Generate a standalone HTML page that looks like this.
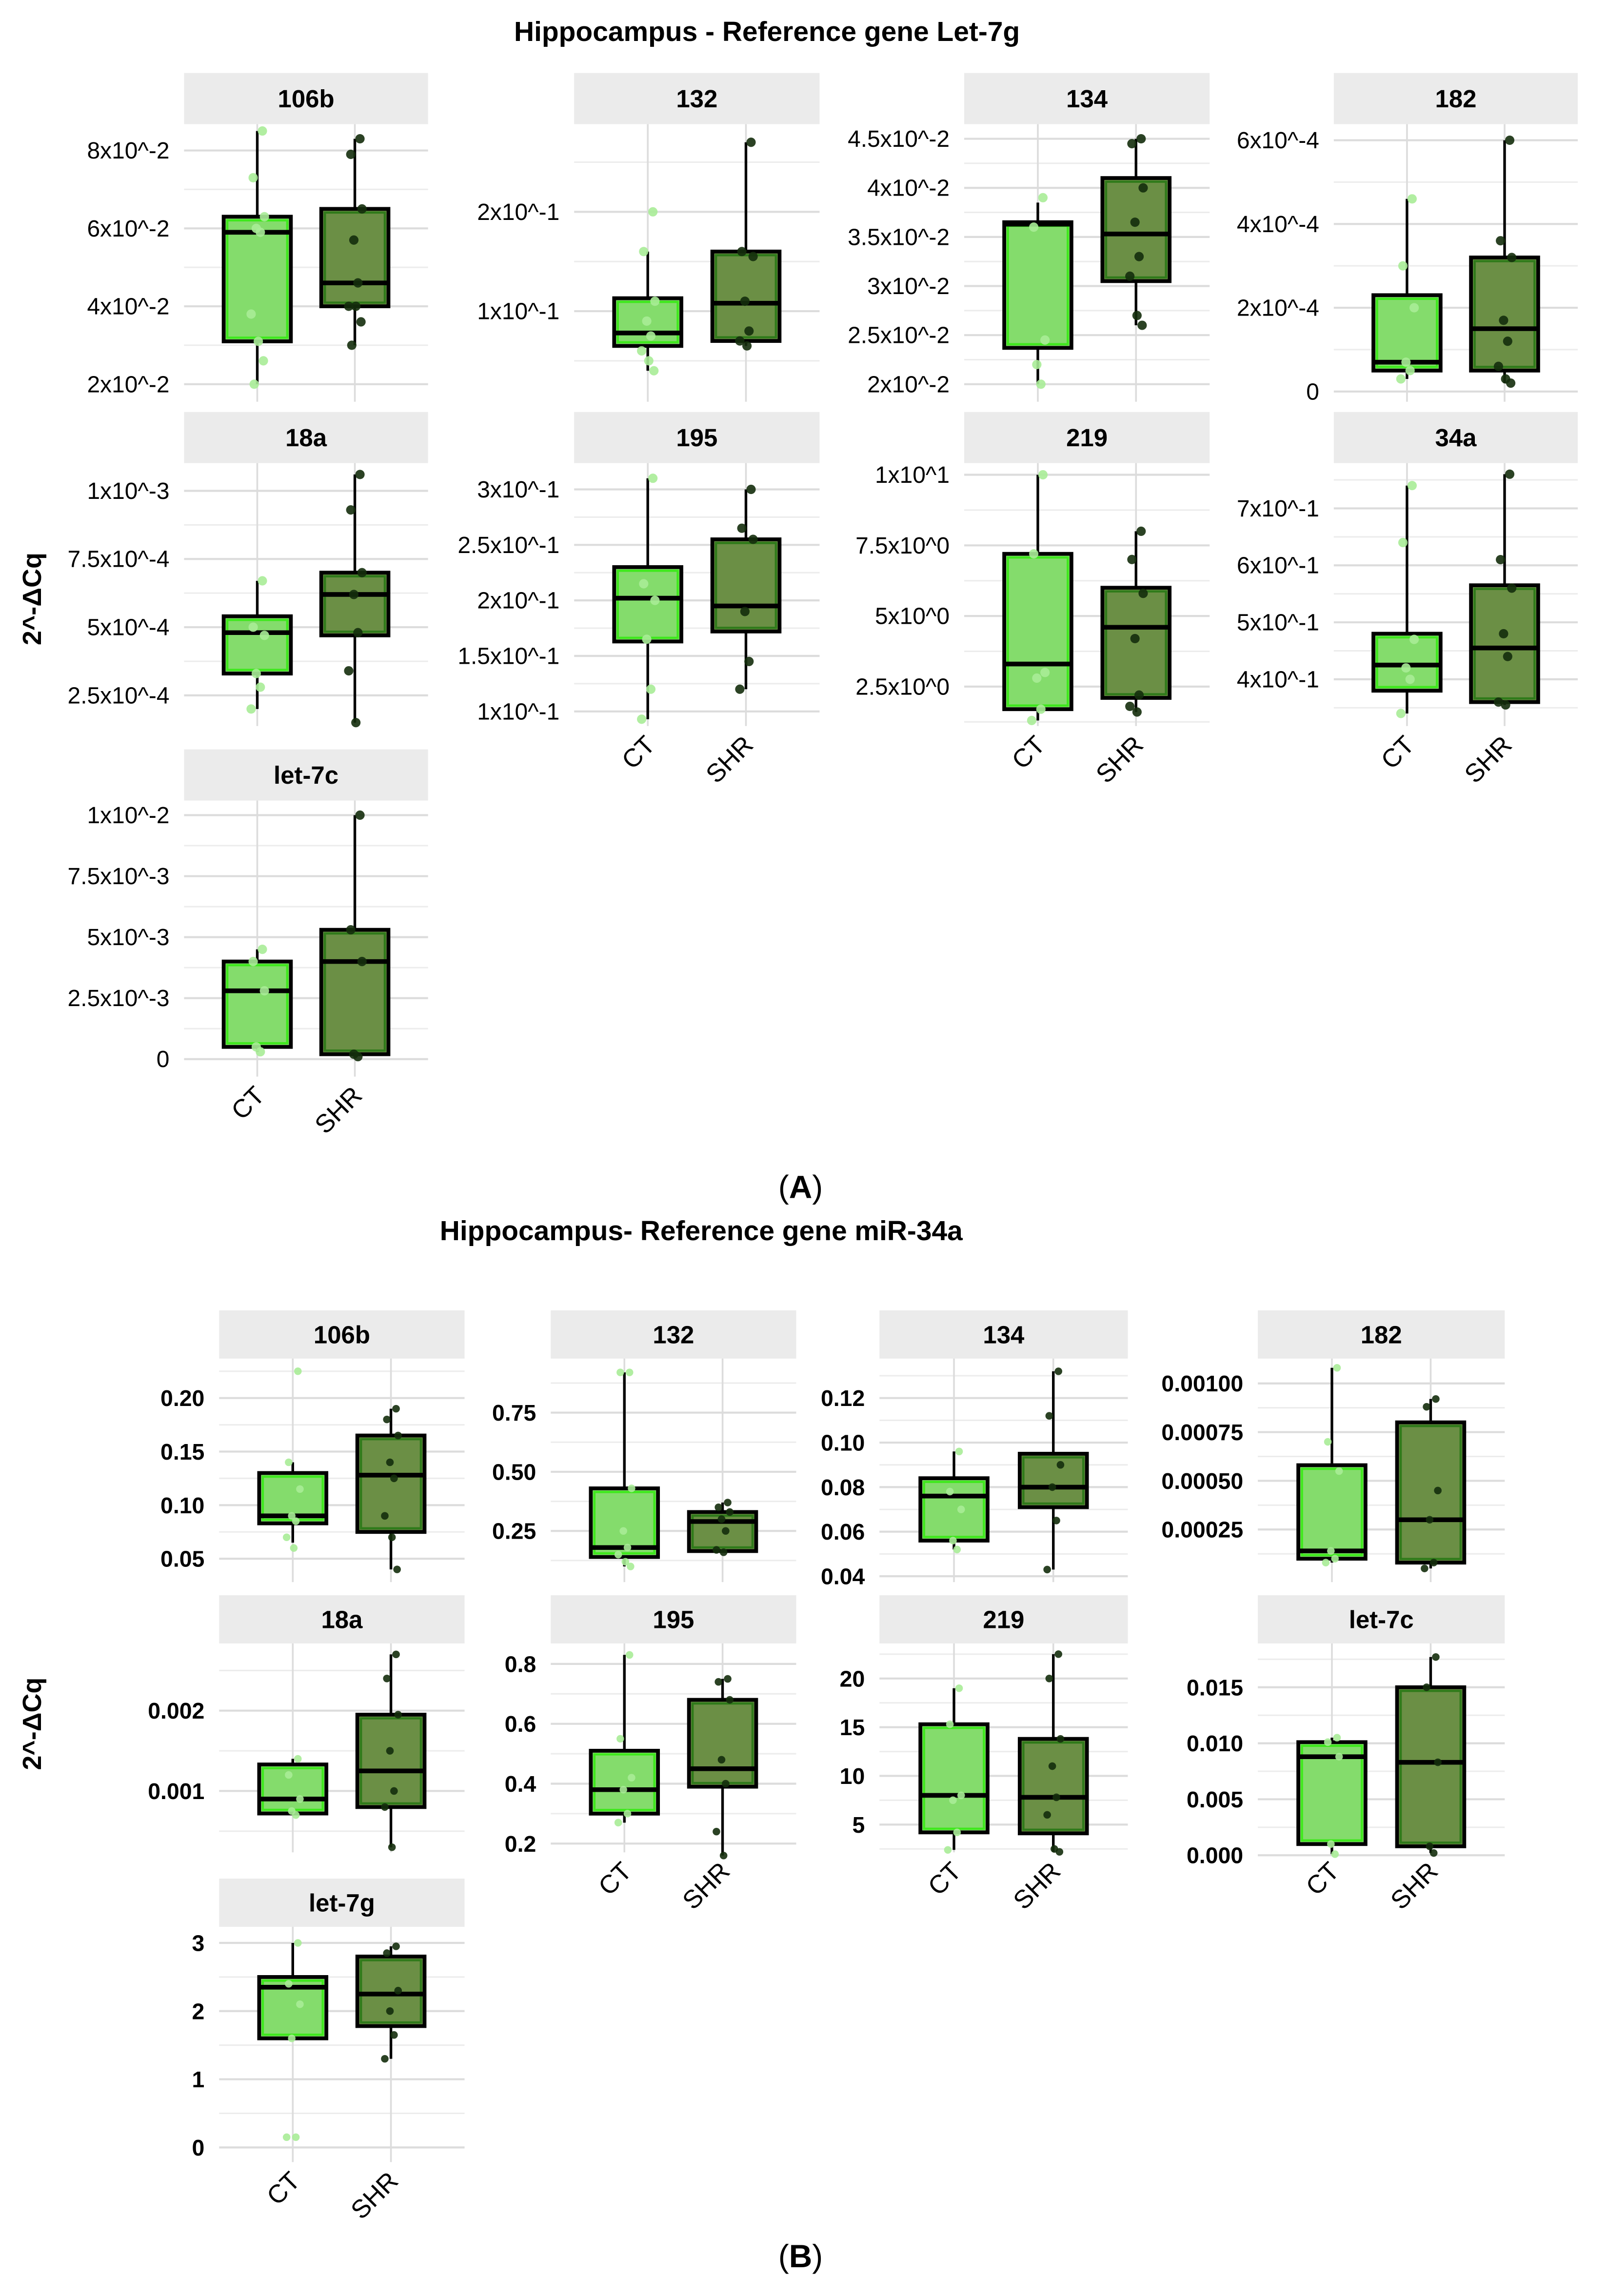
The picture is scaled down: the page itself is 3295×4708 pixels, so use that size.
<!DOCTYPE html>
<html><head><meta charset="utf-8"><style>
html,body{margin:0;padding:0;background:#fff;}
svg{display:block;}
text{font-family:"Liberation Sans",sans-serif;}
</style></head><body>
<svg id="chart" xmlns="http://www.w3.org/2000/svg" width="3295" height="4708" viewBox="0 0 1100 1571.7" preserveAspectRatio="none">
<rect x="0" y="0" width="1100" height="1572" fill="#fff"/>
<text x="525" y="28" text-anchor="middle" font-size="19" font-weight="bold">Hippocampus - Reference gene Let-7g</text>
<text x="480" y="849" text-anchor="middle" font-size="19" font-weight="bold">Hippocampus- Reference gene miR-34a</text>
<text x="548" y="820" text-anchor="middle" font-size="22" font-family="Liberation Serif">(<tspan font-weight="bold">A</tspan>)</text>
<text x="548" y="1552" text-anchor="middle" font-size="22" font-family="Liberation Serif">(<tspan font-weight="bold">B</tspan>)</text>
<text transform="translate(28,410) rotate(-90)" text-anchor="middle" font-size="18" font-weight="bold">2^-ΔCq</text>
<text transform="translate(28,1180) rotate(-90)" text-anchor="middle" font-size="18" font-weight="bold">2^-ΔCq</text>
<g id="panels"></g>
</svg>
<script>
// ---- data: box stats [lower whisker, q1, median, q3, upper whisker] ----
const groups = ["CT", "SHR"];
// Panel A
const a106b_ct = [0.020, 0.031, 0.059, 0.063, 0.085];
const a106b_shr = [0.030, 0.040, 0.046, 0.065, 0.083];
const a106b_ctPts = [0.085, 0.073, 0.063, 0.060, 0.059, 0.038, 0.031, 0.026, 0.020];
const a106b_shrPts = [0.083, 0.079, 0.065, 0.057, 0.046, 0.040, 0.040, 0.036, 0.030];
const a106b_ticks = [0.02, 0.04, 0.06, 0.08];
const a106b_labels = ["2x10^-2", "4x10^-2", "6x10^-2", "8x10^-2"];

const a132_ct = [0.04, 0.065, 0.078, 0.113, 0.16];
const a132_shr = [0.065, 0.07, 0.108, 0.16, 0.27];
const a132_ctPts = [0.2, 0.16, 0.11, 0.09, 0.075, 0.06, 0.05, 0.04];
const a132_shrPts = [0.27, 0.16, 0.155, 0.11, 0.08, 0.07, 0.065];
const a132_ticks = [0.1, 0.2];
const a132_labels = ["1x10^-1", "2x10^-1"];

const a134_ct = [0.020, 0.0237, 0.0363, 0.0365, 0.0385];
const a134_shr = [0.026, 0.0305, 0.0353, 0.041, 0.045];
const a134_ctPts = [0.039, 0.036, 0.0245, 0.022, 0.020];
const a134_shrPts = [0.045, 0.0445, 0.040, 0.0365, 0.033, 0.031, 0.027, 0.026];
const a134_ticks = [0.02, 0.025, 0.03, 0.035, 0.04, 0.045];
const a134_labels = ["2x10^-2", "2.5x10^-2", "3x10^-2", "3.5x10^-2", "4x10^-2", "4.5x10^-2"];

const a182_ct = [0.00003, 0.00005, 0.00007, 0.00023, 0.00046];
const a182_shr = [0.00002, 0.00005, 0.00015, 0.00032, 0.0006];
const a182_ctPts = [0.00046, 0.0003, 0.0002, 0.00007, 0.00005, 0.00003];
const a182_shrPts = [0.0006, 0.00036, 0.00032, 0.00017, 0.00012, 0.00006, 0.00003, 0.00002];
const a182_ticks = [0, 0.0002, 0.0004, 0.0006];
const a182_labels = ["0", "2x10^-4", "4x10^-4", "6x10^-4"];

const a18a_ct = [0.0002, 0.00033, 0.00048, 0.00054, 0.00067];
const a18a_shr = [0.00015, 0.00047, 0.00062, 0.0007, 0.00106];
const a18a_ctPts = [0.00067, 0.0005, 0.00047, 0.00033, 0.00028, 0.0002];
const a18a_shrPts = [0.00106, 0.00093, 0.0007, 0.00062, 0.00048, 0.00034, 0.00015];
const a18a_ticks = [0.00025, 0.0005, 0.00075, 0.001];
const a18a_labels = ["2.5x10^-4", "5x10^-4", "7.5x10^-4", "1x10^-3"];

const a195_ct = [0.093, 0.163, 0.202, 0.23, 0.31];
const a195_shr = [0.12, 0.172, 0.195, 0.255, 0.30];
const a195_ctPts = [0.31, 0.215, 0.2, 0.165, 0.12, 0.093];
const a195_shrPts = [0.30, 0.265, 0.255, 0.19, 0.145, 0.12];
const a195_ticks = [0.1, 0.15, 0.2, 0.25, 0.3];
const a195_labels = ["1x10^-1", "1.5x10^-1", "2x10^-1", "2.5x10^-1", "3x10^-1"];

const a219_ct = [1.3, 1.7, 3.3, 7.2, 10];
const a219_shr = [1.6, 2.1, 4.6, 6.0, 8.0];
const a219_ctPts = [10, 7.2, 3.0, 2.8, 1.7, 1.3];
const a219_shrPts = [8.0, 7.0, 5.8, 4.2, 2.2, 1.8, 1.6];
const a219_ticks = [2.5, 5, 7.5, 10];
const a219_labels = ["2.5x10^0", "5x10^0", "7.5x10^0", "1x10^1"];

const a34a_ct = [0.34, 0.38, 0.425, 0.48, 0.74];
const a34a_shr = [0.355, 0.36, 0.455, 0.565, 0.76];
const a34a_ctPts = [0.74, 0.64, 0.47, 0.42, 0.40, 0.34];
const a34a_shrPts = [0.76, 0.61, 0.56, 0.48, 0.44, 0.36, 0.355];
const a34a_ticks = [0.4, 0.5, 0.6, 0.7];
const a34a_labels = ["4x10^-1", "5x10^-1", "6x10^-1", "7x10^-1"];

const a7c_ct = [0.0003, 0.0005, 0.0028, 0.004, 0.0045];
const a7c_shr = [0.0001, 0.0002, 0.004, 0.0053, 0.010];
const a7c_ctPts = [0.0045, 0.004, 0.0028, 0.0005, 0.0003];
const a7c_shrPts = [0.010, 0.0053, 0.004, 0.0002, 0.0001];
const a7c_ticks = [0, 0.0025, 0.005, 0.0075, 0.01];
const a7c_labels = ["0", "2.5x10^-3", "5x10^-3", "7.5x10^-3", "1x10^-2"];

// Panel B
const b106b_ct = [0.065, 0.083, 0.09, 0.13, 0.14];
const b106b_shr = [0.04, 0.075, 0.128, 0.165, 0.19];
const b106b_ctPts = [0.225, 0.14, 0.115, 0.09, 0.085, 0.07, 0.06];
const b106b_shrPts = [0.19, 0.18, 0.165, 0.14, 0.125, 0.09, 0.07, 0.04];
const b106b_ticks = [0.05, 0.10, 0.15, 0.20];
const b106b_labels = ["0.05", "0.10", "0.15", "0.20"];

const b132_ct = [0.10, 0.14, 0.18, 0.43, 0.92];
const b132_shr = [0.16, 0.165, 0.29, 0.33, 0.37];
const b132_ctPts = [0.92, 0.92, 0.43, 0.25, 0.18, 0.15, 0.12, 0.10];
const b132_shrPts = [0.37, 0.35, 0.33, 0.3, 0.25, 0.17, 0.16];
const b132_ticks = [0.25, 0.50, 0.75];
const b132_labels = ["0.25", "0.50", "0.75"];

const b134_ct = [0.052, 0.056, 0.076, 0.084, 0.096];
const b134_shr = [0.043, 0.071, 0.08, 0.095, 0.132];
const b134_ctPts = [0.096, 0.078, 0.07, 0.056, 0.052];
const b134_shrPts = [0.132, 0.112, 0.09, 0.08, 0.065, 0.043];
const b134_ticks = [0.04, 0.06, 0.08, 0.10, 0.12];
const b134_labels = ["0.04", "0.06", "0.08", "0.10", "0.12"];

const b182_ct = [0.00008, 0.0001, 0.00014, 0.00058, 0.00108];
const b182_shr = [0.00005, 0.00008, 0.0003, 0.0008, 0.00092];
const b182_ctPts = [0.00108, 0.0007, 0.00055, 0.00014, 0.0001, 0.00008];
const b182_shrPts = [0.00092, 0.00088, 0.00045, 0.0003, 0.00008, 0.00005];
const b182_ticks = [0.00025, 0.0005, 0.00075, 0.001];
const b182_labels = ["0.00025", "0.00050", "0.00075", "0.00100"];

const b18a_ct = [0.0007, 0.00072, 0.0009, 0.00133, 0.0014];
const b18a_shr = [0.0003, 0.0008, 0.00125, 0.00195, 0.0027];
const b18a_ctPts = [0.0014, 0.0012, 0.0009, 0.00075, 0.0007];
const b18a_shrPts = [0.0027, 0.0024, 0.00195, 0.0015, 0.001, 0.0008, 0.0003];
const b18a_ticks = [0.001, 0.002];
const b18a_labels = ["0.001", "0.002"];

const b195_ct = [0.27, 0.3, 0.38, 0.51, 0.83];
const b195_shr = [0.16, 0.39, 0.45, 0.68, 0.75];
const b195_ctPts = [0.83, 0.55, 0.42, 0.38, 0.3, 0.27];
const b195_shrPts = [0.75, 0.74, 0.68, 0.48, 0.4, 0.24, 0.16];
const b195_ticks = [0.2, 0.4, 0.6, 0.8];
const b195_labels = ["0.2", "0.4", "0.6", "0.8"];

const b219_ct = [2.4, 4.2, 8, 15.3, 19];
const b219_shr = [2.2, 4.1, 7.8, 13.8, 22.5];
const b219_ctPts = [19, 15.3, 8, 7.5, 4.2, 2.4];
const b219_shrPts = [22.5, 20, 13.8, 11, 7.8, 6, 2.5, 2.2];
const b219_ticks = [5, 10, 15, 20];
const b219_labels = ["5", "10", "15", "20"];

const b7c_ct = [0.0001, 0.001, 0.0088, 0.0101, 0.0105];
const b7c_shr = [0.0002, 0.0008, 0.0083, 0.015, 0.0177];
const b7c_ctPts = [0.0105, 0.0101, 0.0088, 0.001, 0.0001];
const b7c_shrPts = [0.0177, 0.015, 0.0083, 0.0008, 0.0002];
const b7c_ticks = [0, 0.005, 0.010, 0.015];
const b7c_labels = ["0.000", "0.005", "0.010", "0.015"];

const b7g_ct = [1.6, 1.6, 2.35, 2.5, 3.0];
const b7g_shr = [1.3, 1.78, 2.25, 2.8, 2.95];
const b7g_ctPts = [3.0, 2.4, 2.1, 1.6, 0.15, 0.15];
const b7g_shrPts = [2.95, 2.85, 2.3, 2.0, 1.65, 1.3];
const b7g_ticks = [0, 1, 2, 3];
const b7g_labels = ["0", "1", "2", "3"];

// ---- layout (positions only) ----
const layout = [
 {id:"a-106b",t:"106b",d:[a106b_ct,a106b_shr,a106b_ctPts,a106b_shrPts,a106b_ticks,a106b_labels],s:[126,293,50,85],pb:275,cal:[0.02,263,0.08,103],xl:false,fs:16,B:false},
 {id:"a-132",t:"132",d:[a132_ct,a132_shr,a132_ctPts,a132_shrPts,a132_ticks,a132_labels],s:[393,561,50,85],pb:275,cal:[0.1,213,0.2,145],xl:false,fs:16,B:false},
 {id:"a-134",t:"134",d:[a134_ct,a134_shr,a134_ctPts,a134_shrPts,a134_ticks,a134_labels],s:[660,828,50,85],pb:275,cal:[0.02,263,0.045,95],xl:false,fs:16,B:false},
 {id:"a-182",t:"182",d:[a182_ct,a182_shr,a182_ctPts,a182_shrPts,a182_ticks,a182_labels],s:[913,1080,50,85],pb:275,cal:[0,268,0.0006,96],xl:false,fs:16,B:false},
 {id:"a-18a",t:"18a",d:[a18a_ct,a18a_shr,a18a_ctPts,a18a_shrPts,a18a_ticks,a18a_labels],s:[126,293,282,317],pb:497,cal:[0.00025,476,0.001,336],xl:false,fs:16,B:false},
 {id:"a-195",t:"195",d:[a195_ct,a195_shr,a195_ctPts,a195_shrPts,a195_ticks,a195_labels],s:[393,561,282,317],pb:497,cal:[0.1,487,0.3,335],xl:true,fs:16,B:false},
 {id:"a-219",t:"219",d:[a219_ct,a219_shr,a219_ctPts,a219_shrPts,a219_ticks,a219_labels],s:[660,828,282,317],pb:497,cal:[2.5,470,10,325],xl:true,fs:16,B:false},
 {id:"a-34a",t:"34a",d:[a34a_ct,a34a_shr,a34a_ctPts,a34a_shrPts,a34a_ticks,a34a_labels],s:[913,1080,282,317],pb:497,cal:[0.4,465,0.7,348],xl:true,fs:16,B:false},
 {id:"a-let-7c",t:"let-7c",d:[a7c_ct,a7c_shr,a7c_ctPts,a7c_shrPts,a7c_ticks,a7c_labels],s:[126,293,513,548],pb:737,cal:[0,725,0.01,558],xl:true,fs:16,B:false},
 {id:"b-106b",t:"106b",d:[b106b_ct,b106b_shr,b106b_ctPts,b106b_shrPts,b106b_ticks,b106b_labels],s:[150,318,897,930],pb:1083,cal:[0.05,1067,0.2,957],xl:false,fs:15.5,B:true},
 {id:"b-132",t:"132",d:[b132_ct,b132_shr,b132_ctPts,b132_shrPts,b132_ticks,b132_labels],s:[377,545,897,930],pb:1083,cal:[0.25,1048,0.75,967],xl:false,fs:15.5,B:true},
 {id:"b-134",t:"134",d:[b134_ct,b134_shr,b134_ctPts,b134_shrPts,b134_ticks,b134_labels],s:[602,772,897,930],pb:1083,cal:[0.04,1079,0.12,957],xl:false,fs:15.5,B:true},
 {id:"b-182",t:"182",d:[b182_ct,b182_shr,b182_ctPts,b182_shrPts,b182_ticks,b182_labels],s:[861,1030,897,930],pb:1083,cal:[0.00025,1047,0.001,947],xl:false,fs:15.5,B:true},
 {id:"b-18a",t:"18a",d:[b18a_ct,b18a_shr,b18a_ctPts,b18a_shrPts,b18a_ticks,b18a_labels],s:[150,318,1092,1125],pb:1268,cal:[0.001,1226,0.002,1171],xl:false,fs:15.5,B:true},
 {id:"b-195",t:"195",d:[b195_ct,b195_shr,b195_ctPts,b195_shrPts,b195_ticks,b195_labels],s:[377,545,1092,1125],pb:1268,cal:[0.2,1262,0.8,1139],xl:true,fs:15.5,B:true},
 {id:"b-219",t:"219",d:[b219_ct,b219_shr,b219_ctPts,b219_shrPts,b219_ticks,b219_labels],s:[602,772,1092,1125],pb:1268,cal:[5,1249,20,1149],xl:true,fs:15.5,B:true},
 {id:"b-let-7c",t:"let-7c",d:[b7c_ct,b7c_shr,b7c_ctPts,b7c_shrPts,b7c_ticks,b7c_labels],s:[861,1030,1092,1125],pb:1268,cal:[0,1270,0.015,1155],xl:true,fs:15.5,B:true},
 {id:"b-let-7g",t:"let-7g",d:[b7g_ct,b7g_shr,b7g_ctPts,b7g_shrPts,b7g_ticks,b7g_labels],s:[150,318,1286,1319],pb:1480,cal:[0,1470,3,1330],xl:true,fs:15.5,B:true}
];
const NS = "http://www.w3.org/2000/svg";
const root = document.getElementById("panels");
function mk(tag, attrs, parent){ const e=document.createElementNS(NS,tag); for(const k in attrs) e.setAttribute(k,attrs[k]); parent.appendChild(e); return e; }
const jit = [0.25,-0.2,0.35,-0.05,0.15,-0.3,0.05,0.3,-0.15];

layout.forEach(p => {
  const [ctBox, shrBox, ctPts, shrPts, ticks, labels] = p.d;
  const [x0,x1,st,sb] = p.s;
  const [v1,y1,v2,y2] = p.cal;
  const y = v => y1 + (v - v1) * (y2 - y1) / (v2 - v1);
  const w = x1 - x0;
  const xs = [x0 + 0.3*w, x0 + 0.7*w];
  const bw = 23;
  const g = mk("g", {}, root);
  
  
  const strip = mk("rect", {x:x0,y:st,width:w,height:sb-st,fill:"#ebebeb"}, g);
  
  
  const stxt = mk("text", {x:(x0+x1)/2,y:(st+sb)/2+6,"text-anchor":"middle","font-size":17,"font-weight":"bold"}, g);
  stxt.textContent = p.t;
  
  
  const step = ticks.length>1 ? ticks[1]-ticks[0] : (ticks[0]);
  for (let k=-1;k<ticks.length;k++){
    const mv = (k<0 ? ticks[0]-step/2 : ticks[k]+step/2);
    const my = y(mv);
    if (my>sb+2 && my<p.pb) mk("line",{x1:x0,x2:x1,y1:my,y2:my,stroke:"#ececec","stroke-width":1},g);
  }
  ticks.forEach((t,i) => {
    const ty = y(t);
    mk("line",{x1:x0,x2:x1,y1:ty,y2:ty,stroke:"#dcdcdc","stroke-width":1.4},g);
    const lt = mk("text",{x:x0-10,y:ty+5.5,"text-anchor":"end","font-size":p.fs,"font-weight":p.B?"bold":"normal"},g);
    lt.textContent = labels[i];
    
    
  });
  xs.forEach(x => mk("line",{x1:x,x2:x,y1:sb,y2:p.pb,stroke:"#dcdcdc","stroke-width":1.2},g));
  [ctBox, shrBox].forEach((b,gi) => {
    const x = xs[gi];
    const fill = gi===0 ? "#84dc6c" : "#6b8f45";
    const inner = gi===0 ? "#3ee81c" : "#2f7a1a";
    const wl = mk("line",{x1:x,x2:x,y1:y(b[0]),y2:y(b[4]),stroke:"#000","stroke-width":1.8},g);
    
    
    const r = mk("rect",{x:x-bw,y:y(b[3]),width:2*bw,height:Math.max(1,y(b[1])-y(b[3])),fill:fill,stroke:"#000","stroke-width":2.6},g);
    
    
    mk("rect",{x:x-bw+2.5,y:y(b[3])+2.5,width:2*bw-5,height:Math.max(0,y(b[1])-y(b[3])-5),fill:"none",stroke:inner,"stroke-width":1.5},g);
    const md = mk("line",{x1:x-bw,x2:x+bw,y1:y(b[2]),y2:y(b[2]),stroke:"#000","stroke-width":3.2},g);
    
    
  });
  [ctPts, shrPts].forEach((pts,gi) => {
    pts.forEach((v,i) => {
      const c = mk("circle",{cx:xs[gi]+jit[i%jit.length]*14,cy:y(v),r:p.B?2.6:3.2,fill:gi===0?"#a9ec97":"#142d0c","fill-opacity":0.9},g);
      
      
    });
  });
  if (p.xl) {
    xs.forEach((x,gi) => {
      const tx = x+6, ty = p.pb+14;
      const lt = mk("text",{x:tx,y:ty,"text-anchor":"end","font-size":17.5,transform:`rotate(-45 ${tx} ${ty})`},g);
      lt.textContent = groups[gi];
      
      
    });
  }
});
</script>
</body></html>
